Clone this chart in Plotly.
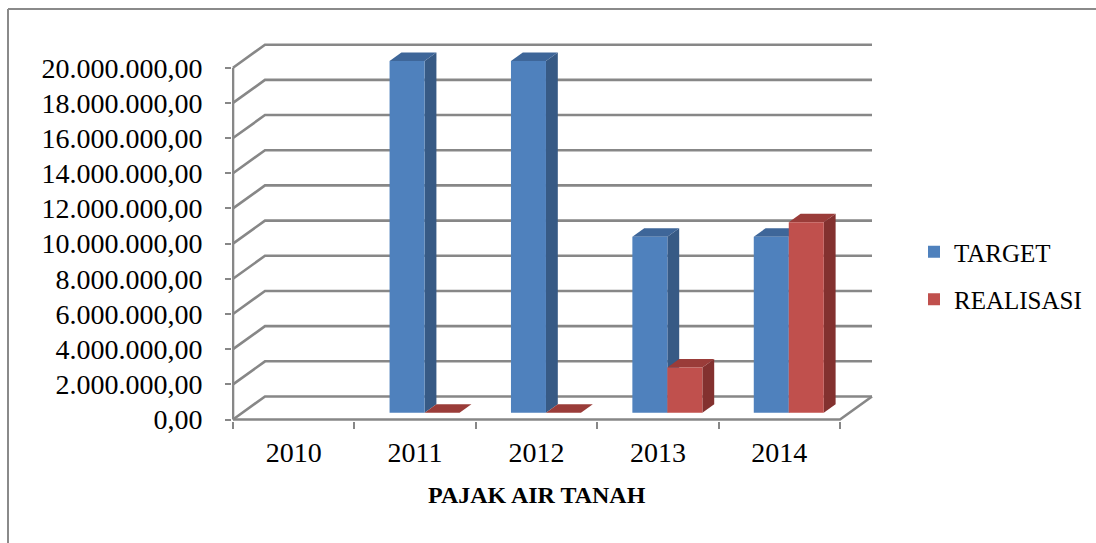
import plotly.graph_objects as go

# ---------------- data ----------------
categories = ["2010", "2011", "2012", "2013", "2014"]
target = [None, 20000000, 20000000, 10000000, 10000000]
realisasi = [None, 0, 0, 2570000, 10830000]
y_ticks = [0, 2000000, 4000000, 6000000, 8000000, 10000000,
           12000000, 14000000, 16000000, 18000000, 20000000]
x_title = "PAJAK AIR TANAH"
series_names = ["TARGET", "REALISASI"]

# ---------------- styling / layout constants ----------------
W, H = 1096, 543
PX_L, PX_R, PX_T, PX_B = 232, 876, 38, 421
FRONT_X0 = 233.0        # pixel of left front corner (category boundary -0.5)
CAT_PX = 121.4          # pixels per category
ZERO_PX = 419.5         # pixel of value 0 on front plane
PXV = 17.59e-6          # pixels per value unit

x_min = -0.5 - (FRONT_X0 - PX_L) / CAT_PX
x_max = -0.5 + (PX_R - FRONT_X0) / CAT_PX
y_min = -(PX_B - ZERO_PX) / PXV
y_max = (ZERO_PX - PX_T) / PXV

DX = 32 / CAT_PX        # depth offset (x, category units)
DY = 23 / PXV           # depth offset (y, value units)
FRONT_FRAC = 0.296      # depth position of bar front faces
BAR_FRAC = 0.37         # bar depth
SX = FRONT_FRAC * DX
BASE = FRONT_FRAC * DY
BDX = BAR_FRAC * DX
BDY = BAR_FRAC * DY
BW = 35 / CAT_PX

GRID = "#878787"
FONT = "Liberation Serif"
colors = {
    "TARGET": ("#4F81BD", "#375A85", "#3E6699"),
    "REALISASI": ("#C0504D", "#83312F", "#9A3C39"),
}

def fmt(v):
    s = f"{v:,.2f}"
    return s.replace(",", "X").replace(".", ",").replace("X", ".")

def path(pts):
    return "M " + " L ".join(f"{x},{y}" for x, y in pts) + " Z"

xs = list(range(len(categories)))
shapes = []
n = len(categories)

# back wall gridlines (with diagonal from front axis)
for v in y_ticks:
    shapes.append(dict(type="path", xref="x", yref="y", layer="below",
                       path=f"M -0.5,{v} L {-0.5 + DX},{v + DY} L {n - 0.5 + DX},{v + DY}",
                       line=dict(color=GRID, width=2.6)))
# floor: front edge and right diagonal
shapes.append(dict(type="path", xref="x", yref="y", layer="below",
                   path=f"M -0.5,0 L {n - 0.5},0 L {n - 0.5 + DX},{DY}",
                   line=dict(color=GRID, width=2.6)))
# front vertical axis
shapes.append(dict(type="line", xref="x", yref="y", layer="below",
                   x0=-0.5, x1=-0.5, y0=0, y1=max(y_ticks),
                   line=dict(color=GRID, width=2.6)))

fig = go.Figure()
series = [("TARGET", target, -BW), ("REALISASI", realisasi, 0.0)]
for name, vals, off in series:
    front, side, top = colors[name]
    fig.add_trace(go.Bar(
        name=name, x=xs, y=vals, base=BASE, width=BW, offset=SX + off,
        marker=dict(color=front, line=dict(width=0)),
        legendgroup=name,
    ))
    for i, v in zip(xs, vals):
        if v is None:
            continue
        xl = i + SX + off
        xr = xl + BW
        b = BASE
        t = BASE + v
        shapes.append(dict(type="path", xref="x", yref="y", layer="below",
                           path=path([(xr, b), (xr + BDX, b + BDY), (xr + BDX, t + BDY), (xr, t)]),
                           fillcolor=side, line=dict(width=0)))
        shapes.append(dict(type="path", xref="x", yref="y", layer="below",
                           path=path([(xl, t), (xr, t), (xr + BDX, t + BDY), (xl + BDX, t + BDY)]),
                           fillcolor=top, line=dict(width=0)))

# outer chart border (top and left)
pw, ph = PX_R - PX_L, PX_B - PX_T
def px2paper_x(px):
    return (px - PX_L) / pw
def px2paper_y(py):
    return (PX_B - py) / ph
shapes.append(dict(type="line", xref="paper", yref="paper",
                   x0=px2paper_x(8), x1=px2paper_x(W + 5), y0=px2paper_y(9), y1=px2paper_y(9),
                   line=dict(color="#8a8a8a", width=2)))
shapes.append(dict(type="line", xref="paper", yref="paper",
                   x0=px2paper_x(8), x1=px2paper_x(8), y0=px2paper_y(9), y1=px2paper_y(H + 5),
                   line=dict(color="#8a8a8a", width=2)))

fig.update_layout(
    width=W, height=H,
    margin=dict(l=PX_L, r=W - PX_R, t=PX_T, b=H - PX_B, autoexpand=False),
    plot_bgcolor="white", paper_bgcolor="white",
    barmode="overlay",
    font=dict(family=FONT, size=28, color="black"),
    shapes=shapes,
    showlegend=True,
    legend=dict(x=px2paper_x(914), y=px2paper_y(229), xanchor="left", yanchor="top",
                font=dict(family=FONT, size=25, color="black"),
                traceorder="grouped", tracegroupgap=12, bgcolor="rgba(0,0,0,0)"),
    xaxis=dict(range=[x_min, x_max], tickmode="array", tickvals=xs, ticktext=categories,
               ticks="", showgrid=False, zeroline=False, showline=False,
               ticklabelstandoff=12, tickfont=dict(family=FONT, size=28),
               minor=dict(tickmode="array", tickvals=[i - 0.5 for i in range(n + 1)],
                          ticks="outside", ticklen=7, tickwidth=2, tickcolor=GRID, showgrid=False)),
    yaxis=dict(range=[y_min, y_max], tickmode="array", tickvals=y_ticks,
               ticktext=[fmt(v) for v in y_ticks],
               ticks="outside", ticklen=6, tickwidth=2, tickcolor=GRID,
               showgrid=False, zeroline=False, showline=False,
               ticklabelstandoff=17, tickfont=dict(family=FONT, size=28)),
    annotations=[dict(text=f"<b>{x_title}</b>", xref="x", yref="paper",
                      x=(n - 1) / 2, y=px2paper_y(495), showarrow=False,
                      xanchor="center", yanchor="middle",
                      font=dict(family=FONT, size=24, color="black"))],
)

fig.write_html("out.html", config={"displayModeBar": False},
               post_script="document.body.style.margin='0';document.body.style.padding='0';")
